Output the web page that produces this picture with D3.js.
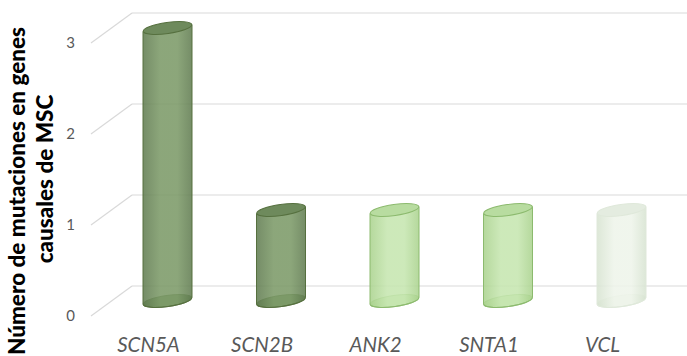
<!DOCTYPE html>
<html>
<head>
<meta charset="utf-8">
<script src="https://cdn.jsdelivr.net/npm/d3@7"></script>
<style>
  html, body { margin: 0; padding: 0; background: #fff; }
  svg { display: block; }
</style>
</head>
<body>
<svg id="chart" width="687" height="356"></svg>
<script>
// Genes and number of mutations found in each
const genes = ["SCN5A", "SCN2B", "ANK2", "SNTA1", "VCL"];
const mutations = [3, 1, 1, 1, 1];
const yTicks = [0, 1, 2, 3];
const titleLines = ["Número de mutaciones en genes", "causales de MSC"];

// Cylinder shades: [edge, middle, outline, top]
const palette = [
  ["#627d52", "#7c9a68", "#56703f", "#6e8a5c"],
  ["#627d52", "#7c9a68", "#56703f", "#6e8a5c"],
  ["#abd38f", "#c6e6b0", "#8cba6e", "#b8dca0"],
  ["#abd38f", "#c6e6b0", "#8cba6e", "#b8dca0"],
  ["#d8e4d2", "#eef4ea", "#dfe8da", "#e4ece0"]
];

const W = 687, H = 356;
const svg = d3.select("#chart");

// Perspective: back wall, front edge and the middle plane where bars stand
const backX = 132, frontX = 91;
const yBack = d3.scaleLinear().domain([0, 3]).range([286, 13]);
const yFront = d3.scaleLinear().domain([0, 3]).range([316, 43]);
const yMid = d3.scaleLinear().domain([0, 3]).range([301, 28]);
const x = d3.scalePoint().domain(genes).range([167.5, 621.5]);
const labelShift = -19;

// Gridlines on the back wall plus the receding side lines
const grid = svg.append("g");
yTicks.forEach(t => {
  grid.append("line")
    .attr("x1", backX).attr("x2", W)
    .attr("y1", yBack(t)).attr("y2", yBack(t))
    .attr("stroke", "#d9d9d9").attr("stroke-width", 1.2);
  grid.append("line")
    .attr("x1", backX).attr("y1", yBack(t))
    .attr("x2", frontX).attr("y2", yFront(t))
    .attr("stroke", "#d9d9d9").attr("stroke-width", 1.2);
});

// Value axis labels
svg.append("g").selectAll("text").data(yTicks).join("text")
  .attr("x", 75).attr("y", d => yFront(d) + 5)
  .attr("text-anchor", "end")
  .attr("font-family", "Lato, 'Open Sans', sans-serif")
  .attr("font-size", 15)
  .attr("fill", "#595959")
  .text(d => d);

// Gradients for the cylinder bodies
const defs = svg.append("defs");
palette.forEach((p, i) => {
  const g = defs.append("linearGradient").attr("id", "cyl" + i)
    .attr("x1", "0%").attr("x2", "100%").attr("y1", "0%").attr("y2", "0%");
  g.append("stop").attr("offset", "0%").attr("stop-color", p[0]);
  g.append("stop").attr("offset", "35%").attr("stop-color", p[1]);
  g.append("stop").attr("offset", "70%").attr("stop-color", p[1]);
  g.append("stop").attr("offset", "100%").attr("stop-color", p[0]);
});

const rx = 24.5, ry = 5.5, tilt = -8;
const rise = Math.sin(-tilt * Math.PI / 180) * rx;
const bars = svg.append("g").selectAll("g").data(genes).join("g");
bars.each(function(gname, i) {
  const g = d3.select(this);
  const cx = x(gname);
  const yTop = yMid(mutations[i]);
  const yBot = yMid(0);
  const p = palette[i];
  // bottom cap
  g.append("ellipse")
    .attr("cx", cx).attr("cy", yBot).attr("rx", rx).attr("ry", ry)
    .attr("transform", `rotate(${tilt},${cx},${yBot})`)
    .attr("fill", `url(#cyl${i})`).attr("stroke", p[2]).attr("stroke-width", 1);
  // body, slightly see-through
  g.append("path")
    .attr("d", `M${cx - rx},${yTop + rise} L${cx + rx},${yTop - rise} L${cx + rx},${yBot - rise} L${cx - rx},${yBot + rise} Z`)
    .attr("fill", `url(#cyl${i})`).attr("fill-opacity", 0.88);
  g.append("line")
    .attr("x1", cx - rx).attr("x2", cx - rx).attr("y1", yTop + rise).attr("y2", yBot + rise)
    .attr("stroke", p[2]).attr("stroke-width", 1);
  g.append("line")
    .attr("x1", cx + rx).attr("x2", cx + rx).attr("y1", yTop - rise).attr("y2", yBot - rise)
    .attr("stroke", p[2]).attr("stroke-width", 1);
  // front rim of the bottom cap
  g.append("path")
    .attr("d", `M${cx - rx},${yBot} A${rx},${ry} 0 0 0 ${cx + rx},${yBot}`)
    .attr("transform", `rotate(${tilt},${cx},${yBot})`)
    .attr("fill", "none").attr("stroke", p[2]).attr("stroke-width", 1).attr("stroke-opacity", 0.8);
  // top cap
  g.append("ellipse")
    .attr("cx", cx).attr("cy", yTop).attr("rx", rx).attr("ry", ry)
    .attr("transform", `rotate(${tilt},${cx},${yTop})`)
    .attr("fill", p[3]).attr("stroke", p[2]).attr("stroke-width", 1);
});

// Category labels
svg.append("g").selectAll("text").data(genes).join("text")
  .attr("x", d => x(d) + labelShift).attr("y", 352)
  .attr("text-anchor", "middle")
  .attr("font-family", "Lato, 'Open Sans', sans-serif")
  .attr("font-style", "italic")
  .attr("font-size", 20.5)
  .attr("fill", "#595959")
  .text(d => d);

// Axis title, two rotated lines
const titleCenters = [191, 179];
const titleBase = [25, 53];
titleLines.forEach((line, i) => {
  svg.append("text")
    .attr("transform", `translate(${titleBase[i]},${titleCenters[i]}) rotate(-90)`)
    .attr("text-anchor", "middle")
    .attr("font-family", "Lato, 'Open Sans', sans-serif")
    .attr("font-weight", 900)
    .attr("font-size", 22.5)
    .attr("fill", "#000")
    .text(line);
});
</script>
</body>
</html>
